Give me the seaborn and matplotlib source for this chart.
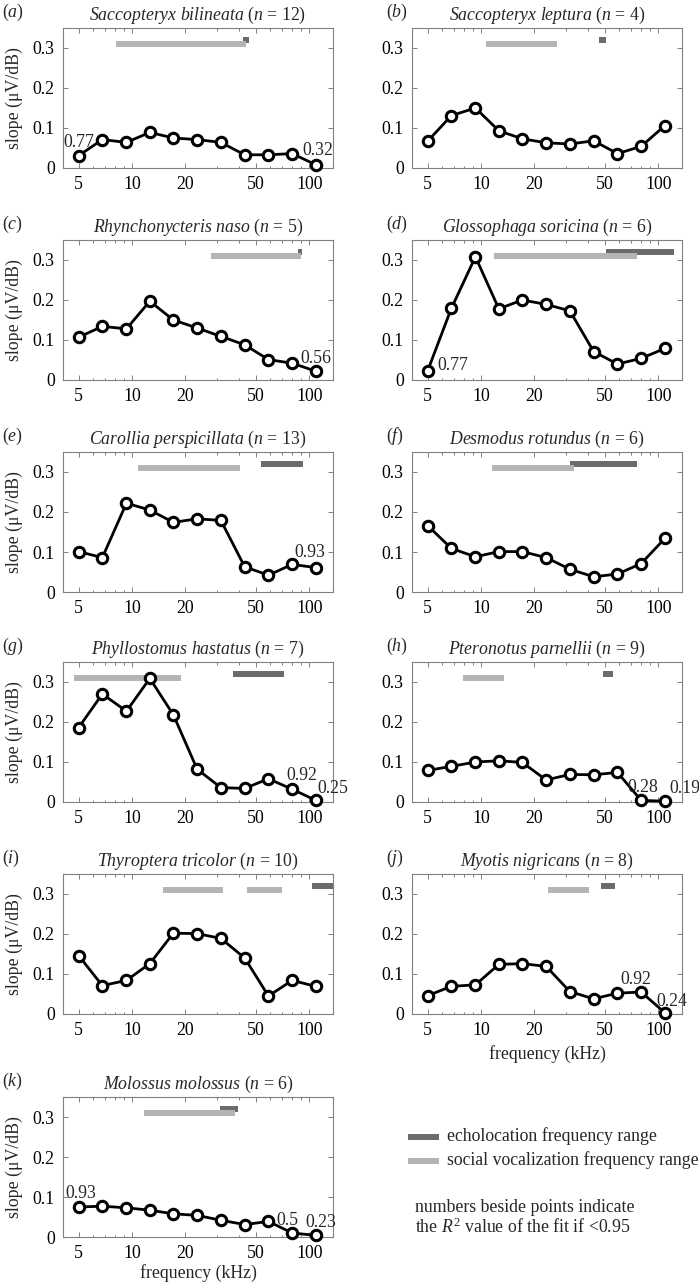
import matplotlib
matplotlib.use("Agg")
import matplotlib.pyplot as plt
import matplotlib.ticker as mticker
from matplotlib.lines import Line2D
import pandas as pd
import seaborn as sns

# ---------------- data ----------------
FREQ_KHZ = [5, 6.8, 9.3, 12.6, 17.1, 23.3, 31.7, 43.2, 58.8, 80, 108.9]

PANELS = ["a", "b", "c", "d", "e", "f", "g", "h", "i", "j", "k"]
SPECIES = ["Saccopteryx bilineata", "Saccopteryx leptura", "Rhynchonycteris naso",
           "Glossophaga soricina", "Carollia perspicillata", "Desmodus rotundus",
           "Phyllostomus hastatus", "Pteronotus parnellii", "Thyroptera tricolor",
           "Myotis nigricans", "Molossus molossus"]
N_ANIMALS = [12, 4, 5, 6, 13, 6, 7, 9, 10, 8, 6]

slope_a = [0.031, 0.071, 0.064, 0.089, 0.075, 0.071, 0.064, 0.033, 0.033, 0.036, 0.008]
slope_b = [0.067, 0.131, 0.150, 0.093, 0.073, 0.063, 0.060, 0.068, 0.036, 0.054, 0.106]
slope_c = [0.107, 0.134, 0.128, 0.197, 0.150, 0.130, 0.109, 0.088, 0.051, 0.042, 0.022]
slope_d = [0.023, 0.179, 0.308, 0.178, 0.200, 0.189, 0.173, 0.071, 0.040, 0.054, 0.079]
slope_e = [0.101, 0.086, 0.222, 0.205, 0.174, 0.183, 0.179, 0.063, 0.042, 0.069, 0.061]
slope_f = [0.166, 0.109, 0.088, 0.101, 0.101, 0.086, 0.057, 0.038, 0.045, 0.071, 0.134]
slope_g = [0.186, 0.270, 0.227, 0.309, 0.218, 0.082, 0.036, 0.034, 0.058, 0.032, 0.004]
slope_h = [0.079, 0.089, 0.100, 0.103, 0.099, 0.055, 0.069, 0.068, 0.074, 0.004, 0.002]
slope_i = [0.146, 0.071, 0.084, 0.126, 0.202, 0.201, 0.189, 0.140, 0.045, 0.084, 0.069]
slope_j = [0.046, 0.069, 0.073, 0.124, 0.126, 0.119, 0.056, 0.038, 0.052, 0.055, 0.003]
slope_k = [0.075, 0.077, 0.073, 0.067, 0.058, 0.054, 0.042, 0.031, 0.039, 0.010, 0.004]
SLOPES = [slope_a, slope_b, slope_c, slope_d, slope_e, slope_f,
          slope_g, slope_h, slope_i, slope_j, slope_k]

# frequency ranges (kHz)
ECHO_RANGES = {
    "a": [(42.3, 45.7)], "b": [(46.5, 50.8)], "c": [(86.1, 91.1)],
    "d": [(50.8, 122.0)], "e": [(53.5, 91.9)], "f": [(31.9, 76.0)],
    "g": [(37.0, 71.8)], "h": [(49.0, 55.8)], "i": [(104.0, 150.0)],
    "j": [(47.6, 56.8)], "k": [(31.5, 39.6)],
}
SOCIAL_RANGES = {
    "a": [(8.16, 44.2)], "b": [(10.6, 26.9)], "c": [(27.9, 89.2)],
    "d": [(11.8, 76.0)], "e": [(10.8, 40.4)], "f": [(11.5, 33.4)],
    "g": [(4.69, 18.9)], "h": [(7.95, 13.5)], "i": [(15.0, 32.6), (44.8, 70.2)],
    "j": [(23.8, 40.5)], "k": [(11.7, 38.3)],
}
ECHO_Y = 0.32
SOCIAL_Y = 0.31

# R^2 values shown beside points: (panel, point index, text)
R2_NOTES = [("a", 0, "0.77"), ("a", 10, "0.32"), ("c", 10, "0.56"), ("d", 0, "0.77"),
            ("e", 10, "0.93"), ("g", 9, "0.92"), ("g", 10, "0.25"),
            ("h", 9, "0.28"), ("h", 10, "0.19"), ("j", 9, "0.92"), ("j", 10, "0.24"),
            ("k", 0, "0.93"), ("k", 9, "0.5"), ("k", 10, "0.23")]

X_TICKS = [5, 10, 20, 50, 100]
X_TICK_LABELS = ["5", "10", "20", "50", "100"]
Y_TICKS = [0, 0.1, 0.2, 0.3]
Y_TICK_LABELS = ["0", "0.1", "0.2", "0.3"]

# ---------------- style / layout ----------------
NOTE_OFFSETS = {  # pixel offsets (dx, dy, ha)
    ("a", 0): (0, 9, "center"), ("a", 10): (2, 10, "center"), ("c", 10): (0, 8, "center"),
    ("d", 0): (10, 1, "left"), ("e", 10): (-6, 11, "center"),
    ("g", 9): (10, 9, "center"), ("g", 10): (1, 7, "left"),
    ("h", 9): (2, 8, "center"), ("h", 10): (4, 8, "left"),
    ("j", 9): (-5, 8, "center"), ("j", 10): (7, 7, "center"),
    ("k", 0): (2, 9, "center"), ("k", 9): (-5, 8, "center"), ("k", 10): (5, 8, "center"),
}

sns.set_theme(style="ticks")
plt.rcParams["font.family"] = ["Liberation Serif", "DejaVu Serif"]
plt.rcParams["mathtext.fontset"] = "custom"
plt.rcParams["mathtext.rm"] = "Liberation Serif"
plt.rcParams["mathtext.it"] = "Liberation Serif:italic"
plt.rcParams["mathtext.bf"] = "Liberation Serif:bold"

W, H = 699, 1284
FS = 12.8
DARK = "#6b6b6b"
LIGHT = "#b4b4b4"
SPINE = "#808080"
BAR_LW = 4.3

fig = plt.figure(figsize=(W / 100, H / 100), dpi=100)
fig.patch.set_facecolor("white")

COL_X = [63, 412]
ROW_TOP = [28, 240, 452, 662, 874, 1097]
AX_W, AX_H = 270, 140

for idx, (p, sp, n, slopes) in enumerate(zip(PANELS, SPECIES, N_ANIMALS, SLOPES)):
    row, col = divmod(idx, 2)
    x0, top = COL_X[col], ROW_TOP[row]
    ax = fig.add_axes([x0 / W, 1 - (top + AX_H) / H, AX_W / W, AX_H / H])
    ax.set_facecolor("white")

    for lo, hi in ECHO_RANGES[p]:
        ax.plot([lo, hi], [ECHO_Y, ECHO_Y], color=DARK, lw=BAR_LW,
                solid_capstyle="butt", zorder=1)
    for lo, hi in SOCIAL_RANGES[p]:
        ax.plot([lo, hi], [SOCIAL_Y, SOCIAL_Y], color=LIGHT, lw=BAR_LW,
                solid_capstyle="butt", zorder=2)

    df = pd.DataFrame({"freq": FREQ_KHZ, "slope": slopes})
    sns.lineplot(data=df, x="freq", y="slope", ax=ax, color="black", lw=2.0,
                 marker="o", markersize=7.5, markerfacecolor="white",
                 markeredgecolor="black", markeredgewidth=2.2, clip_on=False,
                 zorder=3)

    ax.set_xscale("log")
    ax.set_xlim(4.08, 136)
    ax.set_ylim(0, 0.35)
    ax.set_xticks(X_TICKS)
    ax.set_xticklabels(X_TICK_LABELS)
    ax.xaxis.set_minor_locator(mticker.LogLocator(base=10, subs=range(2, 10)))
    ax.xaxis.set_minor_formatter(mticker.NullFormatter())
    ax.set_yticks(Y_TICKS)
    ax.set_yticklabels(Y_TICK_LABELS)
    ax.tick_params(which="both", direction="in", top=True, right=True,
                   color=SPINE, labelcolor="black", labelsize=FS, width=0.7)
    ax.tick_params(which="major", length=3.5, pad=6)
    ax.tick_params(which="minor", length=1.8)
    for s in ax.spines.values():
        s.set_color(SPINE)
        s.set_linewidth(0.8)

    if p in ("j", "k"):
        ax.set_xlabel("frequency (kHz)", fontsize=FS, labelpad=4 if p == "j" else 1)
    else:
        ax.set_xlabel("")
    ax.set_ylabel("slope (μV/dB)" if col == 0 else "", fontsize=FS, labelpad=7)

    sp_tex = sp.replace(" ", r"\ ")
    ax.set_title(r"$\mathit{" + sp_tex + r"}$ ($\mathit{n}$ = " + f"{n})",
                 fontsize=FS, pad=6)
    lab_x = 2 if col == 0 else 386
    fig.text(lab_x / W, 1 - (top - 11) / H, r"($\mathit{" + p + r"}$)",
             fontsize=FS, ha="left", va="baseline")

    for (pp, i, txt) in R2_NOTES:
        if pp != p:
            continue
        dx, dy, ha = NOTE_OFFSETS[(pp, i)]
        ax.annotate(txt, xy=(FREQ_KHZ[i], slopes[i]), xytext=(dx, dy),
                    textcoords="offset pixels", ha=ha, va="baseline",
                    fontsize=FS, annotation_clip=False, zorder=4)

# ---------------- legend / note ----------------
fig.add_artist(Line2D([408 / W, 439 / W], [1 - 1137 / H, 1 - 1137 / H],
                      transform=fig.transFigure, color=DARK, lw=BAR_LW,
                      solid_capstyle="butt"))
fig.add_artist(Line2D([408 / W, 439 / W], [1 - 1161 / H, 1 - 1161 / H],
                      transform=fig.transFigure, color=LIGHT, lw=BAR_LW,
                      solid_capstyle="butt"))
fig.text(447 / W, 1 - 1141 / H, "echolocation frequency range", fontsize=FS,
         ha="left", va="baseline")
fig.text(447 / W, 1 - 1165 / H, "social vocalization frequency range", fontsize=FS,
         ha="left", va="baseline")
fig.text(415 / W, 1 - 1212 / H, "numbers beside points indicate", fontsize=FS,
         ha="left", va="baseline")
fig.text(415 / W, 1 - 1233 / H, r"the $\mathit{R}^{2}$ value of the fit if <0.95",
         fontsize=FS, ha="left", va="baseline")

fig.savefig("out.png", dpi=100, facecolor="white")
